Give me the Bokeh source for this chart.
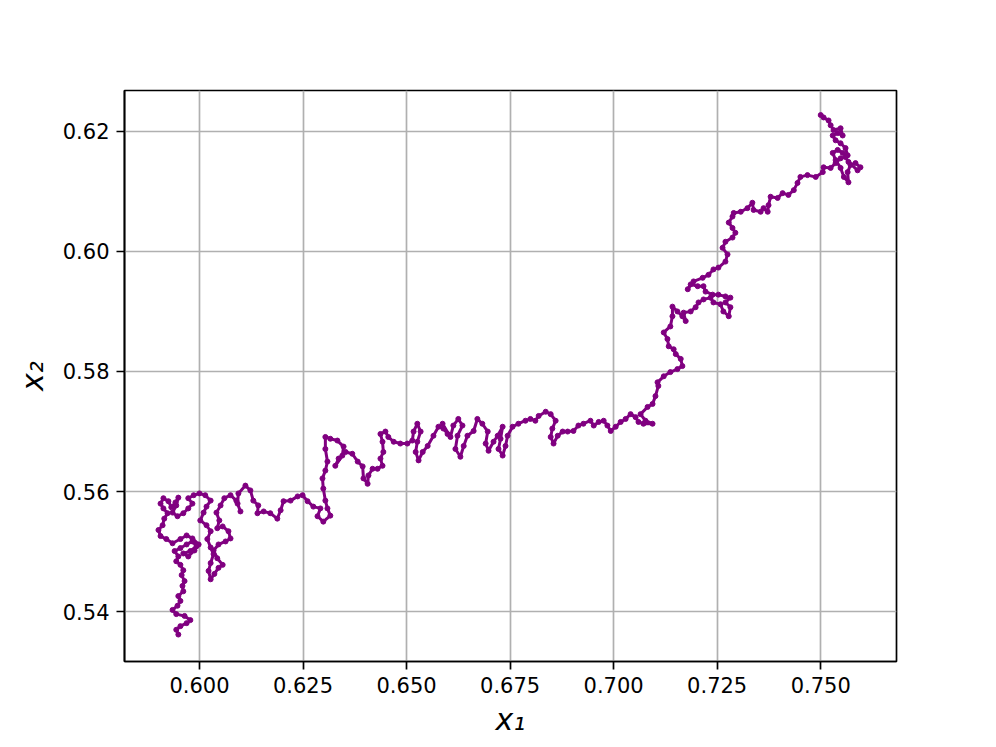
from bokeh.plotting import figure
from bokeh.models import Range1d, FixedTicker, NumeralTickFormatter
from bokeh.embed import file_html
from bokeh.resources import INLINE

x1 = [0.5949, 0.5944, 0.5954, 0.5969, 0.5978, 0.5964, 0.5944, 0.5935, 0.5947, 0.5954,
      0.5949, 0.5961, 0.5959, 0.5964, 0.5957, 0.5961, 0.5954, 0.5944, 0.5949, 0.5940,
      0.5954, 0.5969, 0.5983, 0.5993, 0.5978, 0.5961, 0.5973, 0.5988, 0.5998, 0.5983,
      0.5969, 0.5954, 0.5935, 0.5920, 0.5906, 0.5901, 0.5911, 0.5915, 0.5923, 0.5913,
      0.5906, 0.5913, 0.5925, 0.5932, 0.5942, 0.5949, 0.5944, 0.5935, 0.5947, 0.5961,
      0.5973, 0.5983, 0.5973, 0.5986, 0.6000, 0.6014, 0.6027, 0.6017, 0.6010, 0.6002,
      0.6017, 0.6027, 0.6019, 0.6027, 0.6034, 0.6027, 0.6022, 0.6027, 0.6036, 0.6046,
      0.6056, 0.6043, 0.6034, 0.6046, 0.6063, 0.6075, 0.6070, 0.6056, 0.6043, 0.6048,
      0.6041, 0.6051, 0.6060, 0.6075, 0.6089, 0.6099, 0.6092, 0.6094, 0.6111, 0.6123,
      0.6130, 0.6142, 0.6140, 0.6155, 0.6171, 0.6188, 0.6196, 0.6203, 0.6220, 0.6237,
      0.6249, 0.6261, 0.6275, 0.6292, 0.6285, 0.6299, 0.6316, 0.6309, 0.6304, 0.6299,
      0.6297, 0.6304, 0.6309, 0.6304, 0.6304, 0.6316, 0.6333, 0.6348, 0.6345, 0.6328,
      0.6336, 0.6353, 0.6369, 0.6382, 0.6394, 0.6396, 0.6406, 0.6408, 0.6418, 0.6430,
      0.6442, 0.6437, 0.6444, 0.6442, 0.6437, 0.6449, 0.6456, 0.6469, 0.6485, 0.6502,
      0.6514, 0.6517, 0.6526, 0.6534, 0.6526, 0.6522, 0.6529, 0.6539, 0.6551, 0.6565,
      0.6577, 0.6589, 0.6599, 0.6587, 0.6606, 0.6613, 0.6625, 0.6635, 0.6623, 0.6618,
      0.6630, 0.6638, 0.6647, 0.6662, 0.6671, 0.6683, 0.6696, 0.6691, 0.6698, 0.6710,
      0.6720, 0.6732, 0.6727, 0.6722, 0.6732, 0.6739, 0.6744, 0.6756, 0.6770, 0.6787,
      0.6799, 0.6811, 0.6819, 0.6836, 0.6848, 0.6860, 0.6852, 0.6848, 0.6855, 0.6865,
      0.6877, 0.6889, 0.6903, 0.6915, 0.6927, 0.6944, 0.6952, 0.6964, 0.6976, 0.6985,
      0.6993, 0.7005, 0.7017, 0.7029, 0.7041, 0.7053, 0.7060, 0.7072, 0.7094, 0.7077,
      0.7065, 0.7082, 0.7094, 0.7101, 0.7108, 0.7106, 0.7121, 0.7137, 0.7154, 0.7166,
      0.7162, 0.7150, 0.7145, 0.7133, 0.7130, 0.7121, 0.7137, 0.7142, 0.7142, 0.7154,
      0.7166, 0.7174, 0.7169, 0.7186, 0.7198, 0.7205, 0.7217, 0.7234, 0.7241, 0.7258,
      0.7265, 0.7278, 0.7282, 0.7270, 0.7282, 0.7270, 0.7253, 0.7239, 0.7222, 0.7217,
      0.7203, 0.7186, 0.7179, 0.7193, 0.7215, 0.7229, 0.7241, 0.7253, 0.7270, 0.7275,
      0.7263, 0.7270, 0.7287, 0.7294, 0.7287, 0.7278, 0.7287, 0.7290, 0.7307, 0.7323,
      0.7335, 0.7338, 0.7355, 0.7362, 0.7372, 0.7374, 0.7379, 0.7396, 0.7408, 0.7422,
      0.7435, 0.7444, 0.7451, 0.7468, 0.7488, 0.7505, 0.7507, 0.7524, 0.7536, 0.7548,
      0.7560, 0.7567, 0.7589, 0.7596, 0.7584, 0.7572, 0.7565, 0.7567, 0.7556, 0.7548,
      0.7536, 0.7529, 0.7541, 0.7553, 0.7565, 0.7560, 0.7548, 0.7536, 0.7529, 0.7541,
      0.7553, 0.7548, 0.7531, 0.7524, 0.7519, 0.7507, 0.7500]

x2 = [0.5362, 0.5370, 0.5376, 0.5381, 0.5386, 0.5393, 0.5396, 0.5403, 0.5410, 0.5418,
      0.5426, 0.5434, 0.5443, 0.5451, 0.5461, 0.5469, 0.5478, 0.5484, 0.5492, 0.5501,
      0.5506, 0.5512, 0.5517, 0.5509, 0.5501, 0.5497, 0.5492, 0.5502, 0.5512, 0.5522,
      0.5527, 0.5521, 0.5514, 0.5521, 0.5526, 0.5536, 0.5544, 0.5555, 0.5564, 0.5572,
      0.5580, 0.5589, 0.5584, 0.5574, 0.5582, 0.5590, 0.5577, 0.5565, 0.5559, 0.5564,
      0.5572, 0.5580, 0.5589, 0.5594, 0.5597, 0.5594, 0.5585, 0.5575, 0.5565, 0.5552,
      0.5544, 0.5534, 0.5521, 0.5507, 0.5496, 0.5481, 0.5468, 0.5454, 0.5463, 0.5473,
      0.5478, 0.5489, 0.5502, 0.5512, 0.5517, 0.5522, 0.5534, 0.5542, 0.5539, 0.5552,
      0.5565, 0.5577, 0.5589, 0.5594, 0.5585, 0.5567, 0.5580, 0.5597, 0.5610, 0.5602,
      0.5585, 0.5577, 0.5564, 0.5567, 0.5564, 0.5555, 0.5569, 0.5584, 0.5585, 0.5592,
      0.5594, 0.5584, 0.5575, 0.5572, 0.5559, 0.5550, 0.5560, 0.5572, 0.5585, 0.5605,
      0.5622, 0.5635, 0.5650, 0.5671, 0.5691, 0.5688, 0.5685, 0.5675, 0.5660, 0.5643,
      0.5655, 0.5666, 0.5663, 0.5650, 0.5642, 0.5622, 0.5613, 0.5627, 0.5638, 0.5638,
      0.5643, 0.5655, 0.5666, 0.5683, 0.5696, 0.5700, 0.5691, 0.5683, 0.5680, 0.5680,
      0.5685, 0.5700, 0.5713, 0.5700, 0.5683, 0.5666, 0.5652, 0.5666, 0.5676, 0.5693,
      0.5708, 0.5705, 0.5696, 0.5713, 0.5691, 0.5710, 0.5721, 0.5710, 0.5693, 0.5671,
      0.5658, 0.5676, 0.5693, 0.5701, 0.5721, 0.5713, 0.5700, 0.5680, 0.5668, 0.5683,
      0.5693, 0.5708, 0.5688, 0.5671, 0.5660, 0.5676, 0.5693, 0.5708, 0.5713, 0.5718,
      0.5721, 0.5718, 0.5726, 0.5733, 0.5729, 0.5718, 0.5705, 0.5691, 0.5680, 0.5693,
      0.5700, 0.5700, 0.5701, 0.5710, 0.5713, 0.5718, 0.5710, 0.5716, 0.5718, 0.5710,
      0.5701, 0.5708, 0.5716, 0.5721, 0.5729, 0.5724, 0.5716, 0.5713, 0.5713, 0.5718,
      0.5729, 0.5741, 0.5746, 0.5759, 0.5776, 0.5782, 0.5792, 0.5799, 0.5804, 0.5809,
      0.5821, 0.5829, 0.5837, 0.5842, 0.5854, 0.5865, 0.5875, 0.5892, 0.5908, 0.5900,
      0.5892, 0.5884, 0.5898, 0.5900, 0.5907, 0.5915, 0.5920, 0.5923, 0.5915, 0.5912,
      0.5900, 0.5892, 0.5907, 0.5915, 0.5923, 0.5925, 0.5928, 0.5928, 0.5933, 0.5942,
      0.5942, 0.5945, 0.5937, 0.5950, 0.5956, 0.5961, 0.5970, 0.5973, 0.5983, 0.5995,
      0.6006, 0.6016, 0.6023, 0.6031, 0.6039, 0.6048, 0.6058, 0.6064, 0.6066, 0.6072,
      0.6081, 0.6069, 0.6066, 0.6072, 0.6066, 0.6077, 0.6091, 0.6089, 0.6097, 0.6094,
      0.6102, 0.6114, 0.6124, 0.6127, 0.6124, 0.6132, 0.6140, 0.6139, 0.6147, 0.6155,
      0.6157, 0.6149, 0.6135, 0.6140, 0.6147, 0.6144, 0.6132, 0.6115, 0.6124, 0.6139,
      0.6152, 0.6164, 0.6169, 0.6164, 0.6160, 0.6172, 0.6180, 0.6185, 0.6193, 0.6197,
      0.6193, 0.6205, 0.6202, 0.6210, 0.6218, 0.6223, 0.6227]

x_ticks = [0.600, 0.625, 0.650, 0.675, 0.700, 0.725, 0.750]
y_ticks = [0.54, 0.56, 0.58, 0.60, 0.62]

FONT = "DejaVu Sans"
PURPLE = "#800080"

p = figure(width=988, height=739, output_backend="svg", toolbar_location=None,
           x_range=Range1d(0.5819, 0.7683), y_range=Range1d(0.53171, 0.62679),
           min_border_left=124, min_border_right=92, min_border_top=90, min_border_bottom=75)

p.background_fill_color = "white"
p.border_fill_color = "white"
p.outline_line_color = "black"
p.outline_line_width = 1.7
p.outline_line_alpha = 1.0

p.xaxis.ticker = FixedTicker(ticks=x_ticks)
p.yaxis.ticker = FixedTicker(ticks=y_ticks)
p.xaxis.formatter = NumeralTickFormatter(format="0.000")
p.yaxis.formatter = NumeralTickFormatter(format="0.00")

for ax in (p.xaxis, p.yaxis):
    ax.axis_line_color = "black"
    ax.axis_line_width = 1.7
    ax.major_tick_line_color = "black"
    ax.major_tick_line_width = 1.7
    ax.major_tick_out = 8
    ax.major_tick_in = 0
    ax.minor_tick_line_color = None
    ax.major_label_text_font = FONT
    ax.major_label_text_font_size = "21px"
    ax.major_label_text_color = "black"
    ax.major_label_standoff = 7
    ax.axis_label_text_font = FONT
    ax.axis_label_text_font_size = "30px"
    ax.axis_label_text_font_style = "italic"
    ax.axis_label_text_color = "black"

p.xaxis.axis_label = "x\u2081"
p.yaxis.axis_label = "x\u2082"
p.xaxis.axis_label_standoff = 6
p.yaxis.axis_label_standoff = 10

p.grid.grid_line_color = "#b0b0b0"
p.grid.grid_line_width = 1.7

p.line(x1, x2, line_color=PURPLE, line_width=3)
p.scatter(x1, x2, size=5, fill_color=PURPLE, line_color=PURPLE)

open("out.html", "w").write(file_html(p, INLINE))
